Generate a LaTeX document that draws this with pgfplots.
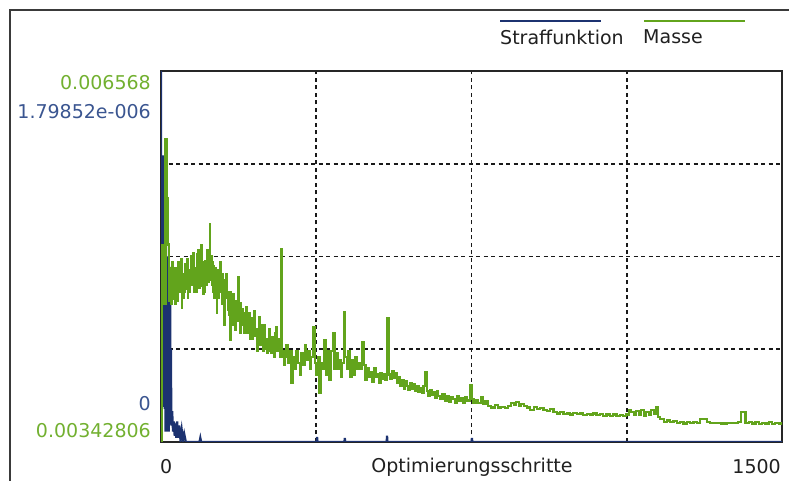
\documentclass[border=0pt]{standalone}
\usepackage{fontspec}
\setmainfont{DejaVu Sans}
\usepackage{pgfplots}
\pgfplotsset{compat=1.18}

\definecolor{blau}{HTML}{1C3270}
\definecolor{blaulabel}{HTML}{3A5590}
\definecolor{gruen}{HTML}{62A41C}
\definecolor{gruenlabel}{HTML}{72B030}
\definecolor{rahmen}{HTML}{3A3A3A}
\definecolor{schrift}{HTML}{202020}

\begin{document}
\begin{tikzpicture}[x=1bp,y=1bp,font=\fontsize{19bp}{22bp}\selectfont]
\useasboundingbox (0,0) rectangle (789,481);
\clip (0,0) rectangle (789,481);
\draw[line width=1.6bp,rahmen] (10,-20) -- (10,471) -- (820,471);

% Straffunktion (blaue Achse) mit Gitter und Rahmen
\begin{axis}[
  at={(161bp,39bp)}, anchor=south west,
  scale only axis, width=621bp, height=371bp,
  xmin=0, xmax=1500, ymin=0, ymax=1.79852e-6,
  xtick={375,750,1125},
  ytick={0.44963e-6,0.89926e-6,1.34889e-6},
  xticklabels={}, yticklabels={},
  scaled y ticks=false, scaled x ticks=false,
  major tick length=0pt,
  grid=major,
  major grid style={black!90,line width=1.6bp,dash pattern=on 4bp off 3.5bp},
  axis line style={line width=1.1bp,black!85},
]
\addplot[blau,line width=2.2bp,sharp plot] coordinates {
(0,1.79852e-6) (1,0.3e-6) (2,1.2e-6) (3,0.2e-6) (4,1.3e-6) (5,0.17e-6)
(6,1.39e-6) (7,0.18e-6) (8,1.35e-6) (9,0.16e-6) (10,1.1e-6) (11,0.05e-6)
(12,0.95e-6) (13,0.1e-6) (14,0.9e-6) (15,0.05e-6) (16,0.88e-6) (17,0.1e-6)
(18,0.86e-6) (19,0.05e-6) (20,0.85e-6) (21,0.1e-6) (22,0.8e-6) (23,0.2e-6)
(24,0.45e-6) (25,0.08e-6)
(27,0.15e-6) (29,0.05e-6) (31,0.1e-6) (33,0.03e-6) (35,0.09e-6) (37,0.02e-6)
(39,0.1e-6) (41,0.02e-6) (44,0.08e-6) (47,0.01e-6) (50,0.06e-6) (53,0.01e-6)
(56,0.04e-6) (60,0) (93,0) (95,0.02e-6) (97,0)
(376,0) (377,0.025e-6) (378,0) (443,0) (444,0.02e-6) (445,0)
(545,0) (546,0.03e-6) (547,0) (750,0) (751,0.02e-6) (752,0) (1500,0)
};
\end{axis}

% Masse (gruene Achse)
\begin{axis}[
  at={(161bp,39bp)}, anchor=south west,
  scale only axis, width=621bp, height=371bp,
  xmin=0, xmax=1500, ymin=0.00342806, ymax=0.006568,
  hide axis,
]
\addplot[gruen,line width=2.2bp,const plot] coordinates {
(0,0.003428) (3,0.005095) (6,0.004600) (11,0.005992) (14,0.005493) (17,0.005100)
(20,0.004620) (21,0.004900) (23,0.004800) (24,0.004600) (26,0.004650) (27,0.004950)
(29,0.004830) (30,0.004640) (32,0.004700) (33,0.004900) (35,0.004600) (36,0.004850)
(38,0.004780) (39,0.004620) (41,0.004680) (42,0.004950) (44,0.004900) (45,0.004700)
(47,0.004720) (48,0.004980) (50,0.004560) (51,0.004800) (53,0.004850) (54,0.004650)
(56,0.004700) (57,0.004900) (59,0.004930) (60,0.004720) (62,0.004760) (63,0.004980)
(65,0.004650) (66,0.004850) (68,0.004880) (69,0.004700) (71,0.004780) (72,0.005000)
(74,0.004970) (75,0.004760) (77,0.004800) (78,0.005030) (80,0.004700) (81,0.004900)
(83,0.004900) (84,0.004700) (86,0.005020) (87,0.004820) (89,0.004800) (90,0.005050)
(92,0.004950) (93,0.004730) (95,0.004750) (96,0.004950) (98,0.005095) (99,0.004850)
(101,0.004880) (102,0.004680) (104,0.004700) (105,0.004950) (107,0.004960) (108,0.004760)
(110,0.004830) (111,0.005050) (113,0.005000) (114,0.004780) (116,0.004850) (118,0.005273)
(119,0.004800) (120,0.004900) (121,0.005000) (123,0.004760) (124,0.004950) (126,0.004920)
(127,0.004700) (129,0.004650) (130,0.004900) (132,0.004850) (133,0.004650) (135,0.004520)
(136,0.004800) (138,0.004880) (139,0.004650) (141,0.004750) (142,0.004950) (144,0.004900)
(145,0.004700) (147,0.004600) (148,0.004850) (150,0.004800) (151,0.004600) (153,0.004420)
(154,0.004700) (156,0.004650) (158,0.004850) (160,0.004700) (162,0.004550) (164,0.004500)
(166,0.004700) (168,0.004291) (169,0.004550) (171,0.004600) (173,0.004420) (175,0.004680)
(176,0.004500) (178,0.004550) (180,0.004380) (182,0.004620) (184,0.004450) (186,0.004824)
(187,0.004550) (189,0.004500) (190,0.004350) (192,0.004600) (193,0.004420) (195,0.004420)
(196,0.004550) (198,0.004520) (200,0.004350) (202,0.004380) (204,0.004500) (206,0.004571)
(208,0.004350) (210,0.004400) (212,0.004520) (214,0.004300) (216,0.004400) (218,0.004480)
(220,0.004300) (222,0.004350) (224,0.004480) (226,0.004540) (228,0.004330) (230,0.004380)
(232,0.004200) (234,0.004250) (236,0.004400) (238,0.004486) (240,0.004250) (242,0.004300)
(244,0.004420) (246,0.004200) (248,0.004330) (250,0.004420) (252,0.004220) (254,0.004300)
(256,0.004180) (258,0.004230) (260,0.004380) (262,0.004350) (264,0.004200) (266,0.004180)
(268,0.004320) (270,0.004300) (272,0.004150) (274,0.004250) (276,0.004350) (278,0.004400)
(280,0.004200) (282,0.004200) (284,0.004300) (287,0.004150) (290,0.005061) (292,0.004350)
(293,0.004150) (295,0.004200) (297,0.004080)
(299,0.004150) (303,0.004250) (307,0.004100) (311,0.004200) (315,0.003927) (319,0.004150)
(323,0.004050) (327,0.004200) (331,0.004100) (335,0.004000) (339,0.004180) (343,0.004080)
(347,0.004250) (351,0.004120) (355,0.004200) (359,0.004050) (363,0.004150) (367,0.004401)
(371,0.004100) (375,0.004000) (379,0.004150) (383,0.003843) (387,0.004100) (391,0.004050)
(395,0.004291) (399,0.004000) (403,0.004200) (407,0.003953) (411,0.004200) (415,0.004351)
(419,0.004050) (423,0.004180) (427,0.004050) (431,0.004120) (435,0.003980) (438,0.004100)
(442,0.004529) (445,0.004150) (449,0.004050) (453,0.004200) (457,0.003980) (461,0.004120)
(465,0.004000) (469,0.004150) (473,0.004050) (477,0.004100) (481,0.004050) (486,0.004274)
(490,0.004080) (494,0.003950) (498,0.004050) (502,0.003980) (506,0.004020) (510,0.003940)
(514,0.004050) (518,0.003980) (522,0.004000) (526,0.003930) (530,0.004010) (534,0.003960)
(538,0.004000) (542,0.003950) (546,0.004477) (550,0.004000) (554,0.003960) (558,0.004030)
(562,0.003970) (566,0.004010) (570,0.003930) (574,0.003980) (578,0.003900) (582,0.003950)
(586,0.003880) (590,0.003940) (594,0.003900) (598,0.003870) (602,0.003930) (606,0.003880)
(610,0.003920) (614,0.003860) (618,0.003900) (622,0.003850) (626,0.003880) (630,0.003840)
(634,0.003900) (638,0.004020) (642,0.003860) (646,0.003820) (650,0.003870) (654,0.003830)
(658,0.003850) (662,0.003800) (666,0.003860) (670,0.003820) (675,0.003790) (680,0.003830)
(685,0.003780) (690,0.003820) (695,0.003770) (700,0.003810) (705,0.003790) (710,0.003760)
(715,0.003820) (720,0.003780) (725,0.003800) (730,0.003760) (735,0.003810) (740,0.003780)
(746,0.003910) (750,0.003790) (755,0.003760) (760,0.003780) (766,0.003760) (772,0.003810)
(778,0.003750) (784,0.003770) (790,0.003730) (798,0.003720) (806,0.003740) (814,0.003720)
(822,0.003725) (830,0.003715) (838,0.003730) (846,0.003760) (852,0.003740) (858,0.003765)
(864,0.003735) (870,0.003750) (876,0.003730) (884,0.003720) (892,0.003700) (900,0.003725)
(908,0.003705) (916,0.003715) (924,0.003700) (932,0.003690) (940,0.003705) (948,0.003685)
(956,0.003670) (964,0.003680) (972,0.003665) (980,0.003670) (988,0.003660) (996,0.003675)
(1004,0.003665) (1012,0.003670) (1020,0.003655) (1028,0.003665) (1036,0.003660) (1044,0.003670)
(1052,0.003655) (1060,0.003665) (1068,0.003650) (1076,0.003660) (1084,0.003650) (1092,0.003660)
(1100,0.003645) (1108,0.003655) (1116,0.003650) (1124,0.003660) (1130,0.003700) (1136,0.003680)
(1142,0.003655) (1148,0.003690) (1154,0.003660) (1160,0.003700) (1166,0.003650) (1172,0.003680)
(1178,0.003660) (1184,0.003700) (1190,0.003665) (1196,0.003724) (1200,0.003640) (1206,0.003620)
(1214,0.003600) (1222,0.003610) (1230,0.003595) (1238,0.003605) (1246,0.003590) (1254,0.003600)
(1262,0.003585) (1270,0.003595) (1278,0.003590) (1286,0.003600) (1294,0.003590) (1302,0.003620)
(1310,0.003625) (1318,0.003600) (1326,0.003590) (1340,0.003590) (1354,0.003585) (1368,0.003590)
(1382,0.003588) (1394,0.003595) (1400,0.003680) (1412,0.003590) (1420,0.003600) (1428,0.003585)
(1436,0.003595) (1444,0.003580) (1452,0.003590) (1460,0.003585) (1468,0.003595) (1476,0.003580)
(1484,0.003590) (1492,0.003585) (1500,0.003600)
};
\end{axis}

% Achsenbeschriftungen
\node[anchor=east,inner sep=0pt,text=gruenlabel] at (151,398) {0.006568};
\node[anchor=east,inner sep=0pt,text=blaulabel] at (151,369) {1.79852e-006};
\node[anchor=east,inner sep=0pt,text=blaulabel] at (151,77) {0};
\node[anchor=east,inner sep=0pt,text=gruenlabel] at (151,50) {0.00342806};
\node[anchor=west,inner sep=0pt,text=schrift] at (160,14) {0};
\node[anchor=east,inner sep=0pt,text=schrift] at (781,14) {1500};
\node[inner sep=0pt,text=schrift] at (472,14) {Optimierungsschritte};

% Legende
\draw[blau,line width=1.2bp] (500,460) -- (601,460);
\node[anchor=west,inner sep=0pt,text=schrift] at (500,444) {Straffunktion};
\draw[gruen,line width=1.2bp] (644,460) -- (745,460);
\node[anchor=west,inner sep=0pt,text=schrift] at (643,444) {Masse};
\end{tikzpicture}
\end{document}
